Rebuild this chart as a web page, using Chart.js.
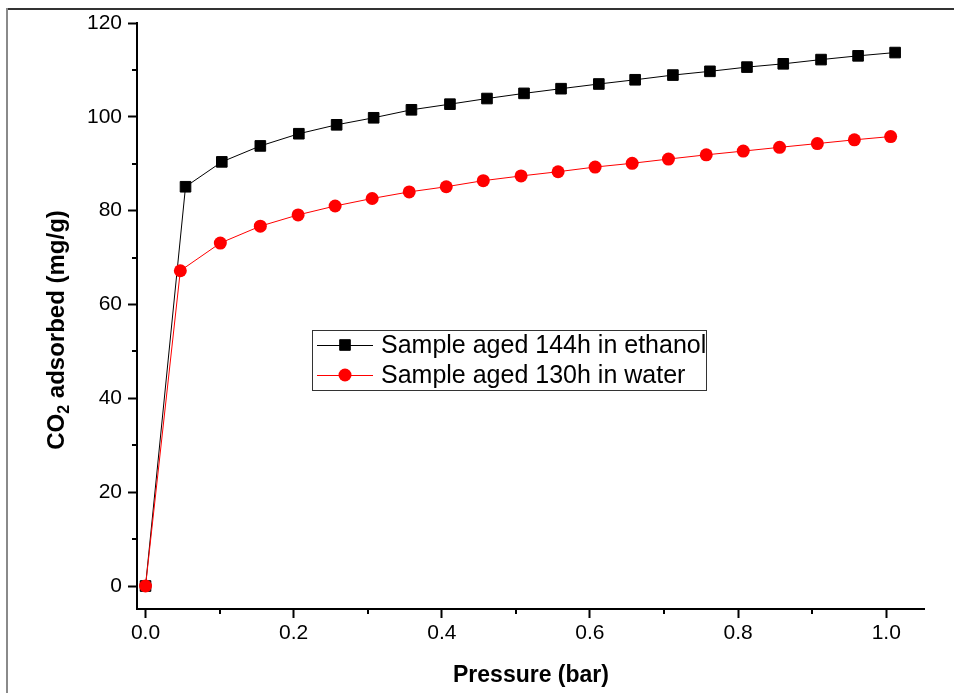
<!DOCTYPE html>
<html>
<head>
<meta charset="utf-8">
<script src="https://cdn.jsdelivr.net/npm/chart.js@4.4.1/dist/chart.umd.min.js"></script>
<style>
  html, body { margin: 0; padding: 0; background: #fff; }
  #chart { display: block; }
</style>
</head>
<body>
<canvas id="chart" width="954" height="693"></canvas>
<script>
// CO2 uptake isotherms (mg/g vs bar)
const ethanolP = [0, 0.054, 0.103, 0.155, 0.207, 0.258, 0.308, 0.359, 0.411, 0.461, 0.511,
  0.561, 0.612, 0.661, 0.712, 0.762, 0.812, 0.861, 0.912, 0.962, 1.012];
const ethanolQ = [0, 85.1, 90.4, 93.8, 96.4, 98.3, 99.8, 101.5, 102.7, 103.9, 105.0,
  106.0, 107.0, 107.9, 108.9, 109.7, 110.6, 111.3, 112.2, 113.0, 113.7];
const waterP = [0, 0.047, 0.101, 0.155, 0.206, 0.256, 0.306, 0.356, 0.406, 0.456, 0.507,
  0.557, 0.607, 0.657, 0.706, 0.757, 0.807, 0.856, 0.907, 0.957, 1.006];
const waterQ = [0, 67.2, 73.1, 76.7, 79.1, 81.0, 82.6, 84.0, 85.1, 86.4, 87.4,
  88.3, 89.3, 90.1, 91.0, 91.9, 92.7, 93.5, 94.3, 95.1, 95.8];
const seriesNames = ["Sample aged 144h in ethanol", "Sample aged 130h in water"];
const xTicks = [0, 0.2, 0.4, 0.6, 0.8, 1.0];
const xMinor = [0.1, 0.3, 0.5, 0.7, 0.9];
const yTicks = [0, 20, 40, 60, 80, 100, 120];
const yMinor = [10, 30, 50, 70, 90, 110];

const FONT = "'Liberation Sans', Arial, sans-serif";

const toPoints = (xs, ys) => xs.map((x, i) => ({ x: x, y: ys[i] }));

// white page + frame lines on top and left
const pageFrame = {
  id: "pageFrame",
  beforeDraw(chart) {
    const ctx = chart.ctx;
    ctx.save();
    ctx.fillStyle = "#fff";
    ctx.fillRect(0, 0, chart.width, chart.height);
    ctx.fillStyle = "#333";
    ctx.fillRect(6, 8, chart.width - 6, 2);
    ctx.fillStyle = "#8a8a8a";
    ctx.fillRect(6, 8, 2, chart.height - 8);
    ctx.restore();
  },
};

// short minor ticks halfway between labelled ticks
const minorTicks = {
  id: "minorTicks",
  afterDraw(chart) {
    const ctx = chart.ctx;
    const xs = chart.scales.x, ys = chart.scales.y;
    const area = chart.chartArea;
    ctx.save();
    ctx.strokeStyle = "#000";
    ctx.lineWidth = 2;
    ctx.beginPath();
    xMinor.forEach((v) => {
      const px = Math.round(xs.getPixelForValue(v));
      ctx.moveTo(px, area.bottom);
      ctx.lineTo(px, area.bottom + 5);
    });
    yMinor.forEach((v) => {
      const py = Math.round(ys.getPixelForValue(v));
      ctx.moveTo(area.left, py);
      ctx.lineTo(area.left - 5, py);
    });
    ctx.stroke();
    ctx.restore();
  },
};

// axis titles, y one has a subscript
const axisTitles = {
  id: "axisTitles",
  afterDraw(chart) {
    const ctx = chart.ctx;
    ctx.save();
    ctx.fillStyle = "#000";
    ctx.textBaseline = "alphabetic";

    ctx.font = "bold 23px " + FONT;
    ctx.textAlign = "center";
    ctx.fillText("Pressure (bar)", 531, 682);

    const big = "bold 24px " + FONT;
    const small = "bold 16px " + FONT;
    ctx.font = big;
    const w1 = ctx.measureText("CO").width;
    const w3 = ctx.measureText(" adsorbed (mg/g)").width;
    ctx.font = small;
    const w2 = ctx.measureText("2").width;
    const total = w1 + w2 + w3;
    ctx.translate(64, 330);
    ctx.rotate(-Math.PI / 2);
    ctx.textAlign = "left";
    let x = -total / 2;
    ctx.font = big;
    ctx.fillText("CO", x, 0);
    x += w1;
    ctx.font = small;
    ctx.fillText("2", x, 5);
    x += w2;
    ctx.font = big;
    ctx.fillText(" adsorbed (mg/g)", x, 0);
    ctx.restore();
  },
};

// boxed legend inside the plot
const boxLegend = {
  id: "boxLegend",
  afterDraw(chart) {
    const ctx = chart.ctx;
    const box = { left: 312, top: 330, width: 394, height: 60 };
    ctx.save();
    ctx.fillStyle = "#fff";
    ctx.fillRect(box.left, box.top, box.width, box.height);
    ctx.strokeStyle = "#333";
    ctx.lineWidth = 1;
    ctx.strokeRect(box.left + 0.5, box.top + 0.5, box.width, box.height);
    ctx.font = "25px " + FONT;
    ctx.textBaseline = "middle";
    ctx.textAlign = "left";
    seriesNames.forEach((name, i) => {
      const ds = chart.data.datasets[i];
      const cy = box.top + 15 + i * 30;
      ctx.strokeStyle = ds.borderColor;
      ctx.lineWidth = 1;
      ctx.beginPath();
      ctx.moveTo(box.left + 5, cy + 0.5);
      ctx.lineTo(box.left + 61, cy + 0.5);
      ctx.stroke();
      ctx.fillStyle = ds.pointBackgroundColor;
      ctx.strokeStyle = ds.pointBorderColor;
      ctx.lineWidth = ds.pointBorderWidth;
      Chart.helpers.drawPoint(ctx, {
        pointStyle: ds.pointStyle,
        radius: ds.pointRadius,
        borderWidth: ds.pointBorderWidth,
        rotation: 0,
      }, box.left + 33, cy);
      ctx.fillStyle = "#000";
      ctx.fillText(name, box.left + 69, cy + 1);
    });
    ctx.restore();
  },
};

new Chart(document.getElementById("chart"), {
  type: "scatter",
  data: {
    datasets: [
      {
        label: seriesNames[0],
        data: toPoints(ethanolP, ethanolQ),
        showLine: true,
        borderColor: "#000",
        borderWidth: 1,
        pointStyle: "rect",
        pointRadius: 7.5,
        pointBorderWidth: 1,
        pointBackgroundColor: "#000",
        pointBorderColor: "#000",
        order: 1,
      },
      {
        label: seriesNames[1],
        data: toPoints(waterP, waterQ),
        showLine: true,
        borderColor: "#ff0000",
        borderWidth: 1,
        pointStyle: "circle",
        pointRadius: 6.5,
        pointBorderWidth: 0,
        pointBackgroundColor: "#ff0000",
        pointBorderColor: "#ff0000",
        order: 0,
      },
    ],
  },
  options: {
    responsive: false,
    animation: false,
    devicePixelRatio: 1,
    layout: { padding: { top: 23, right: 30, left: 0, bottom: 0 } },
    plugins: {
      legend: { display: false },
      tooltip: { enabled: false },
    },
    scales: {
      x: {
        type: "linear",
        min: -0.0115,
        max: 1.051,
        afterFit: (scale) => { scale.height = 84; },
        afterBuildTicks: (scale) => { scale.ticks = xTicks.map((v) => ({ value: v })); },
        border: { display: true, color: "#000", width: 2 },
        grid: { drawOnChartArea: false, drawTicks: true, tickLength: 9, tickWidth: 2, tickColor: "#000" },
        ticks: {
          padding: 3,
          color: "#000",
          font: { family: FONT, size: 21 },
          callback: (v) => v.toFixed(1),
        },
      },
      y: {
        type: "linear",
        min: -4.9,
        max: 120,
        afterFit: (scale) => { scale.width = 137; },
        afterBuildTicks: (scale) => { scale.ticks = yTicks.map((v) => ({ value: v })); },
        border: { display: true, color: "#000", width: 2 },
        grid: { drawOnChartArea: false, drawTicks: true, tickLength: 9, tickWidth: 2, tickColor: "#000" },
        ticks: {
          padding: 6,
          color: "#000",
          font: { family: FONT, size: 21 },
          callback: (v) => String(v),
        },
      },
    },
  },
  plugins: [pageFrame, minorTicks, axisTitles, boxLegend],
});
</script>
</body>
</html>
